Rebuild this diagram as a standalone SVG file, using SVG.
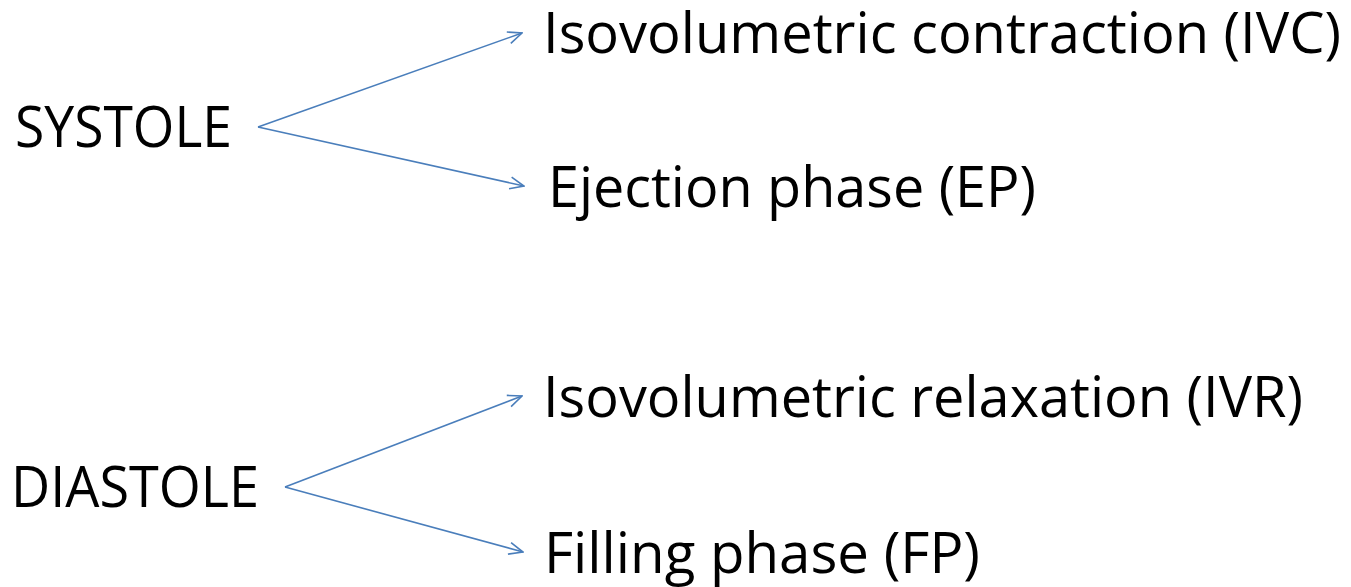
<svg xmlns="http://www.w3.org/2000/svg" width="1351" height="587" viewBox="0 0 1351 587">
<style>
.t{font-family:"Open Sans","Noto Sans","Liberation Sans",sans-serif;font-size:56px;fill:#000;}
.c{stroke:#4A7EBB;stroke-width:1.6;fill:none;}
</style>
<defs>
<marker id="ah" markerUnits="userSpaceOnUse" viewBox="0 0 16 14" refX="15" refY="7" markerWidth="16" markerHeight="14" orient="auto">
<path d="M1,1 L15,7 L1,13" fill="none" stroke="#4A7EBB" stroke-width="1.6"/>
</marker>
</defs>
<rect width="1351" height="587" fill="#fff"/>
<g id="connectors">
<line class="c" x1="258" y1="127" x2="522" y2="33" marker-end="url(#ah)"/>
<line class="c" x1="258" y1="127" x2="524" y2="186" marker-end="url(#ah)"/>
<line class="c" x1="285" y1="487" x2="522" y2="396" marker-end="url(#ah)"/>
<line class="c" x1="285" y1="487" x2="523" y2="552" marker-end="url(#ah)"/>
</g>
<g id="systole"><text class="t" x="15" y="147" textLength="217" lengthAdjust="spacingAndGlyphs">SYSTOLE</text></g>
<g id="ivc"><text class="t" x="543" y="53" textLength="798" lengthAdjust="spacingAndGlyphs">Isovolumetric contraction (IVC)</text></g>
<g id="ep"><text class="t" x="548" y="207" textLength="488" lengthAdjust="spacingAndGlyphs">Ejection phase (EP)</text></g>
<g id="diastole"><text class="t" x="11" y="507" textLength="248" lengthAdjust="spacingAndGlyphs">DIASTOLE</text></g>
<g id="ivr"><text class="t" x="543" y="417" textLength="760" lengthAdjust="spacingAndGlyphs">Isovolumetric relaxation (IVR)</text></g>
<g id="fp"><text class="t" x="544" y="573" textLength="436" lengthAdjust="spacingAndGlyphs">Filling phase (FP)</text></g>
</svg>
